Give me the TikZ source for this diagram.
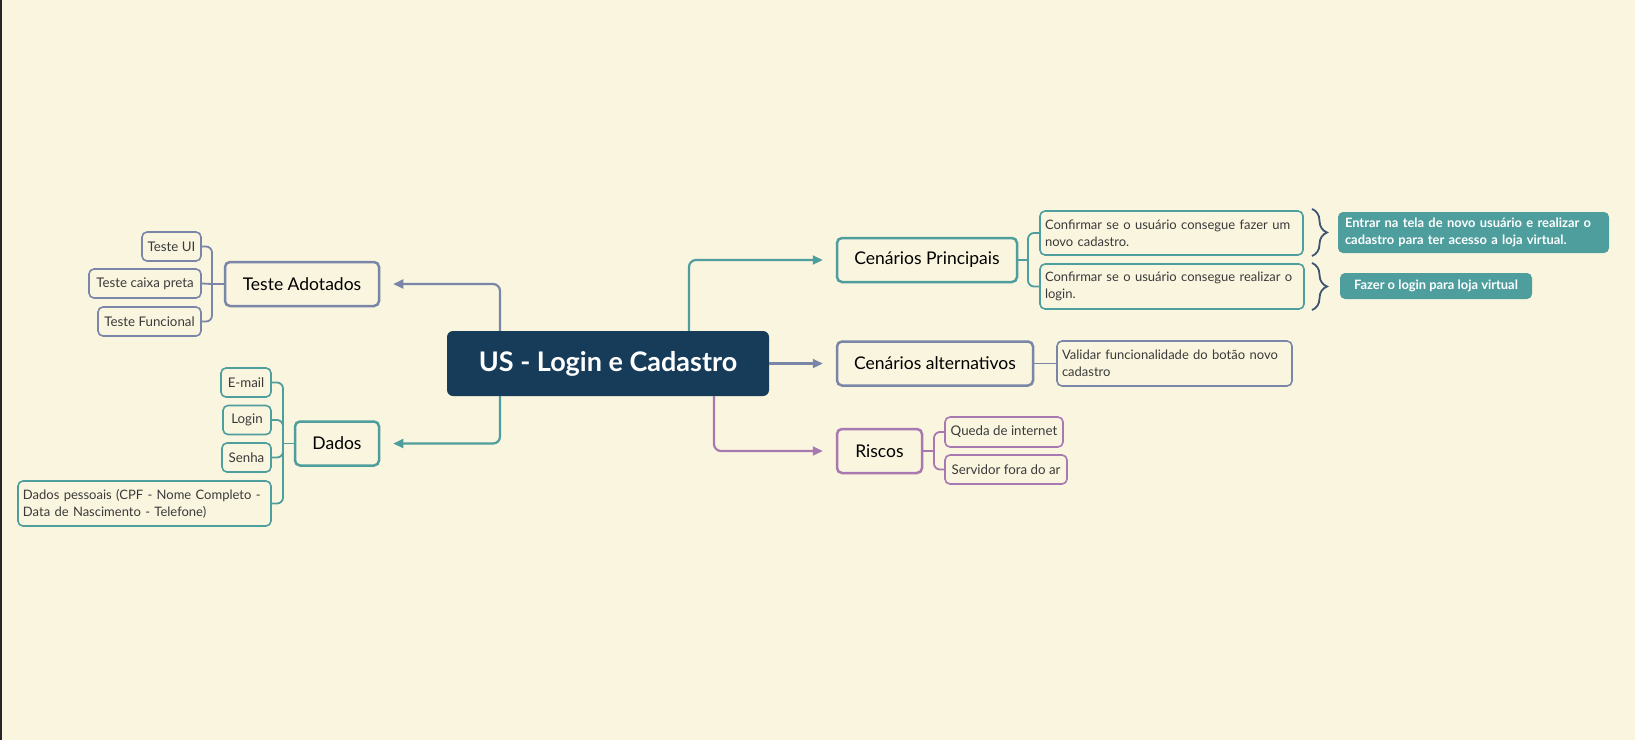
\documentclass[tikz,border=0pt]{standalone}
\usepackage{fontspec}
\setmainfont{Lato}
\usetikzlibrary{arrows.meta,decorations.pathreplacing}
\definecolor{fundo}{HTML}{FAF5DF}
\definecolor{marinho}{HTML}{173C5A}
\definecolor{verde}{HTML}{4E9E9E}
\definecolor{ardosia}{HTML}{7A86A8}
\definecolor{roxo}{HTML}{A878B0}
\definecolor{chave}{HTML}{3D5570}
\definecolor{texto}{HTML}{3A3A3A}
\tikzset{
  raiz/.style={fill=marinho, text=white, rounded corners=6pt, font=\fontsize{27}{31}\selectfont\bfseries,
    minimum width=322pt, minimum height=65pt},
  ramo/.style={draw=#1, fill=fundo, line width=2.5pt, rounded corners=5pt, text=black,
    font=\fontsize{17.5}{21}\selectfont, minimum height=44pt, inner sep=0pt},
  folha/.style={draw=#1, fill=fundo, line width=1.6pt, rounded corners=5pt, text=texto,
    font=\fontsize{13.3}{17}\selectfont, minimum height=29pt, inner sep=0pt},
  bloco/.style={folha=#1, align=left, inner xsep=5pt, inner ysep=5pt,
    font=\fontsize{13}{17}\selectfont},
  nota/.style={fill=verde, text=white, rounded corners=5pt, align=left,
    font=\fontsize{12.9}{17}\selectfont\bfseries, inner xsep=7pt, inner ysep=4pt},
  liga/.style={draw=#1, line width=2.2pt, rounded corners=7pt,
    -{Triangle[length=10pt,width=9pt]}, shorten >=13pt},
  galho/.style={draw=#1, line width=1.8pt, rounded corners=6pt},
  chaveta/.style={draw=chave, line width=1.8pt, decorate,
    decoration={brace, amplitude=15pt, aspect=0.5}},
}
\begin{document}
\begin{tikzpicture}[x=1pt,y=-1pt]
  % --- fundo ----------------------------------------------------------
  \fill[fundo] (0,0) rectangle (1635,740);
  \useasboundingbox (0,0) rectangle (1635,740);
  \fill[black!85] (0,0) rectangle (2,740);
  % --- no central -----------------------------------------------------
  \node[raiz] (us) at (608,363.5) {US - Login e Cadastro};
  % --- ramos principais -----------------------------------------------
  \node[ramo=ardosia, minimum width=154pt] (adot) at (302,284) {Teste Adotados};
  \node[ramo=verde,   minimum width=84pt]  (dados) at (337,443.5) {Dados};
  \node[ramo=verde,   minimum width=180pt] (princ) at (927,260) {Cenários Principais};
  \node[ramo=ardosia, minimum width=196pt] (alter) at (935,363.5) {Cenários alternativos};
  \node[ramo=roxo,    minimum width=85pt]  (riscos) at (879.5,451) {Riscos};
  % --- folhas: Teste Adotados -----------------------------------------
  \node[folha=ardosia, minimum width=59pt]  (ui)    at (171.5,246.5) {Teste UI};
  \node[folha=ardosia, minimum width=112pt] (caixa) at (145,283.5) {Teste caixa preta};
  \node[folha=ardosia, minimum width=103pt] (func)  at (149.5,321.5) {Teste Funcional};
  % --- folhas: Dados --------------------------------------------------
  \node[folha=verde, minimum width=50pt] (email) at (246,382.5) {E-mail};
  \node[folha=verde, minimum width=48pt] (login) at (247,420) {Login};
  \node[folha=verde, minimum width=49pt] (senha) at (246.5,457.5) {Senha};
  \node[bloco=verde, text width=243pt, minimum height=45pt] (pessoais) at (144.5,503.5)
    {Dados pessoais (CPF - Nome Completo -\\Data de Nascimento - Telefone)};
  % --- folhas: cenarios -----------------------------------------------
  \node[bloco=verde, text width=253pt, minimum height=44pt] (conf1) at (1171.5,233)
    {Confirmar se o usuário consegue fazer um\\novo cadastro.};
  \node[bloco=verde, text width=254pt, minimum height=45pt] (conf2) at (1172,286.5)
    {Confirmar se o usuário consegue realizar o\\login.};
  \node[bloco=ardosia, text width=225pt, minimum height=45pt] (valid) at (1174.5,363.5)
    {Validar funcionalidade do botão novo\\cadastro};
  \node[folha=roxo, minimum width=118pt, minimum height=30pt] (queda) at (1004,432) {Queda de internet};
  \node[folha=roxo, minimum width=122pt] (serv) at (1006,469.5) {Servidor fora do ar};
  % --- notas ----------------------------------------------------------
  \node[nota, text width=257pt, minimum height=41pt] (nota1) at (1473.5,232.5)
    {Entrar na tela de novo usuário e realizar o\\cadastro para ter acesso a loja virtual.};
  \node[nota, minimum width=192pt, minimum height=26pt] (nota2) at (1436,286)
    {Fazer o login para loja virtual};
  \draw[chaveta] (1312,209) -- (1312,256);
  \draw[chaveta] (1312,263) -- (1312,310);
  % --- ligacoes do no central -----------------------------------------
  \draw[liga=ardosia] ([xshift=-108pt]us.north) |- (adot.east);
  \draw[liga=verde]   ([xshift=-108pt]us.south) |- (dados.east);
  \draw[liga=verde]   ([xshift=81pt]us.north)   |- (princ.west);
  \draw[liga=ardosia] (us.east) -- (alter.west);
  \draw[liga=roxo]    ([xshift=106pt]us.south)  |- (riscos.west);
  % --- galhos ---------------------------------------------------------
  \coordinate (jadot) at (212,284);
  \draw[galho=ardosia] (adot.west) -- (jadot);
  \draw[galho=ardosia] (jadot) |- (ui.east);
  \draw[galho=ardosia] (jadot) -- (caixa.east);
  \draw[galho=ardosia] (jadot) |- (func.east);
  \coordinate (jdados) at (283,443.5);
  \draw[galho=verde] (dados.west) -- (jdados);
  \draw[galho=verde] (jdados) |- (email.east);
  \draw[galho=verde] (jdados) |- (login.east);
  \draw[galho=verde] (jdados) |- (senha.east);
  \draw[galho=verde] (jdados) |- (pessoais.east);
  \coordinate (jprinc) at (1028,260);
  \draw[galho=verde] (princ.east) -- (jprinc);
  \draw[galho=verde] (jprinc) |- (conf1.west);
  \draw[galho=verde] (jprinc) |- (conf2.west);
  \draw[galho=ardosia] (alter.east) -- (valid.west);
  \coordinate (jriscos) at (934,451);
  \draw[galho=roxo] (riscos.east) -- (jriscos);
  \draw[galho=roxo] (jriscos) |- (queda.west);
  \draw[galho=roxo] (jriscos) |- (serv.west);
\end{tikzpicture}
\end{document}
